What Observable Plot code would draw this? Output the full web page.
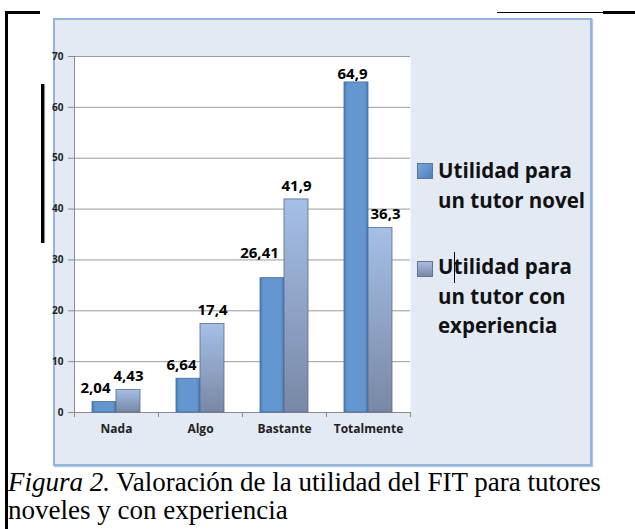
<!DOCTYPE html>
<html>
<head>
<meta charset="utf-8">
<script src="https://cdn.jsdelivr.net/npm/d3@7"></script>
<script src="https://cdn.jsdelivr.net/npm/@observablehq/plot@0.6"></script>
<style>
  html, body { margin: 0; padding: 0; background: #fff; }
  #page { position: relative; width: 635px; height: 529px; overflow: hidden; }
  .abs { position: absolute; }
  #box { left: 53px; top: 18px; width: 535px; height: 444px; background: #e3eaf4; border: 2px solid #93b4dc; box-shadow: 1px 1px 1px #b9c6d6; }
  #chart { left: 0; top: 0; }
  .leg { font-family: "Open Sans", Lato, sans-serif; font-weight: bold; font-size: 20.5px; line-height: 29.5px; color: #111; white-space: nowrap; }
  .sw { width: 14px; height: 14px; border: 1px solid #5d7597; }
  #caption { left: 8px; top: 468px; font-family: "Liberation Serif", "Times New Roman", serif; font-size: 27px; line-height: 28px; color: #000; white-space: nowrap; }
</style>
</head>
<body>
<div id="page">
  <div class="abs" style="left:5px;top:11px;width:2.5px;height:518px;background:#000"></div>
  <div class="abs" style="left:5px;top:11px;width:35px;height:3px;background:#000"></div>
  <div class="abs" style="left:497px;top:12px;width:106px;height:1px;background:#000"></div>
  <div class="abs" style="left:603px;top:11px;width:32px;height:3px;background:#000"></div>
  <div class="abs" id="box"></div>
  <div class="abs" style="left:41px;top:84px;width:3px;height:159px;background:#000;box-shadow:1px 0 1px #888"></div>
  <div class="abs" id="chart"></div>
  <div class="abs sw" id="sw1" style="left:417px;top:163px;"></div>
  <div class="abs leg" id="leg1"></div>
  <div class="abs sw" id="sw2" style="left:417px;top:261px;"></div>
  <div class="abs leg" id="leg2"></div>
  <div class="abs" style="left:454px;top:252px;width:1px;height:31px;background:#000"></div>
  <div class="abs" id="caption"></div>
</div>
<script>
// ---- data ----
const categories = ["Nada", "Algo", "Bastante", "Totalmente"];
const seriesNames = ["Utilidad para un tutor novel", "Utilidad para un tutor con experiencia"];
const novelValues = [2.04, 6.64, 26.41, 64.9];
const expValues = [4.43, 17.4, 41.9, 36.3];
const novelLabels = ["2,04", "6,64", "26,41", "64,9"];
const expLabels = ["4,43", "17,4", "41,9", "36,3"];
const yTicks = [0, 10, 20, 30, 40, 50, 60, 70];
const legendLines1 = ["Utilidad para", "un tutor novel"];
const legendLines2 = ["Utilidad para", "un tutor con", "experiencia"];
const captionItalic = "Figura 2.";
const captionRest = " Valoración de la utilidad del FIT para tutores";
const captionLine2 = "noveles y con experiencia";

// ---- styles (label nudges, in px) ----
const novelLabelDx = [-21, -19, -25, -16];
const novelLabelDy = [-9, -9, -20, -3];
const expLabelDx = [12, 12, 12, 17];
const expLabelDy = [-8.5, -9, -8, -9];

const novel = categories.map((c, i) => ({cat: c, value: novelValues[i], label: novelLabels[i], i}));
const exp = categories.map((c, i) => ({cat: c, value: expValues[i], label: expLabels[i], i}));

const font = "'Open Sans', Lato, sans-serif";
const labelMarks = [];
novel.forEach((d, i) => labelMarks.push(Plot.text([d], {x: "cat", y: "value", text: "label", dx: novelLabelDx[i], dy: novelLabelDy[i], lineAnchor: "bottom", fontSize: 15, fontWeight: "bold", fill: "#000", fontFamily: font})));
exp.forEach((d, i) => labelMarks.push(Plot.text([d], {x: "cat", y: "value", text: "label", dx: expLabelDx[i], dy: expLabelDy[i], lineAnchor: "bottom", fontSize: 15, fontWeight: "bold", fill: "#000", fontFamily: font})));

const chart = Plot.plot({
  width: 635,
  height: 470,
  marginLeft: 74,
  marginRight: 225,
  marginTop: 56,
  marginBottom: 58,
  style: {background: "transparent", fontFamily: font, overflow: "visible"},
  x: {type: "band", domain: categories, padding: 0, label: null},
  y: {domain: [0, 70], label: null},
  marks: [
    Plot.frame({fill: "#fff", stroke: null}),
    Plot.gridY(yTicks, {stroke: "#9a9a9a", strokeOpacity: 1}),
    Plot.ruleX([categories[0]], {x: d => d, dx: -42, stroke: "#8c8c8c"}),
    Plot.ruleY([0], {stroke: "#8c8c8c"}),
    Plot.ruleX(categories, {x: d => d, y1: 0, y2: 0, dx: -42, insetBottom: -5, stroke: "#8c8c8c"}),
    Plot.ruleX([categories[categories.length - 1]], {x: d => d, y1: 0, y2: 0, dx: 42, insetBottom: -5, stroke: "#8c8c8c"}),
    Plot.barY(novel, {x: "cat", y: "value", insetLeft: 18, insetRight: 42, fill: "url(#gNovel)", stroke: "#41699a", strokeWidth: 0.8}),
    Plot.barY(exp, {x: "cat", y: "value", insetLeft: 42, insetRight: 18, fill: "url(#gExp)", stroke: "#5a6b86", strokeWidth: 0.8}),
    Plot.axisY({ticks: yTicks, tickSize: 6, tickPadding: 5, fontSize: 10, fontWeight: "bold", stroke: "#8c8c8c", fill: "#222", label: null}),
    Plot.axisX({tickSize: 0, tickPadding: 12, fontSize: 12, fontWeight: "bold", fill: "#222", label: null}),
    ...labelMarks
  ]
});

// gradients
const svg = d3.select(chart.tagName.toLowerCase() === "svg" ? chart : chart.querySelector("svg"));
const defs = svg.insert("defs", ":first-child");
const g1 = defs.append("linearGradient").attr("id", "gNovel").attr("x1", 0).attr("x2", 1).attr("y1", 0).attr("y2", 0);
[[0, "#4b7cb8"], [0.15, "#6496cf"], [0.85, "#6496cf"], [1, "#4b7cb8"]].forEach(([o, c]) => g1.append("stop").attr("offset", o).attr("stop-color", c));
const g2 = defs.append("linearGradient").attr("id", "gExp").attr("x1", 0).attr("x2", 0).attr("y1", 0).attr("y2", 1);
[[0, "#a5bfe6"], [1, "#7888a6"]].forEach(([o, c]) => g2.append("stop").attr("offset", o).attr("stop-color", c));

document.getElementById("chart").appendChild(chart);

// legend (Open Sans: ascent 1.069, descent 0.293)
function placeLegend(id, lines, firstBaseline) {
  const el = document.getElementById(id);
  el.innerHTML = lines.join("<br>");
  const fs = 20.5, lh = 29.5;
  const top = firstBaseline - ((lh - 1.362 * fs) / 2 + 1.069 * fs);
  el.style.left = "438px";
  el.style.top = top + "px";
}
placeLegend("leg1", legendLines1, 179);
placeLegend("leg2", legendLines2, 275);
document.getElementById("sw1").style.background = "linear-gradient(135deg, #7aa6da, #4f80bd)";
document.getElementById("sw2").style.background = "linear-gradient(180deg, #a9bde0, #7888a6)";
document.getElementById("leg1").title = seriesNames[0];
document.getElementById("leg2").title = seriesNames[1];

// caption
const cap = document.getElementById("caption");
const it = document.createElement("i");
it.textContent = captionItalic;
cap.appendChild(it);
cap.appendChild(document.createTextNode(captionRest));
cap.appendChild(document.createElement("br"));
cap.appendChild(document.createTextNode(captionLine2));
</script>
</body>
</html>
